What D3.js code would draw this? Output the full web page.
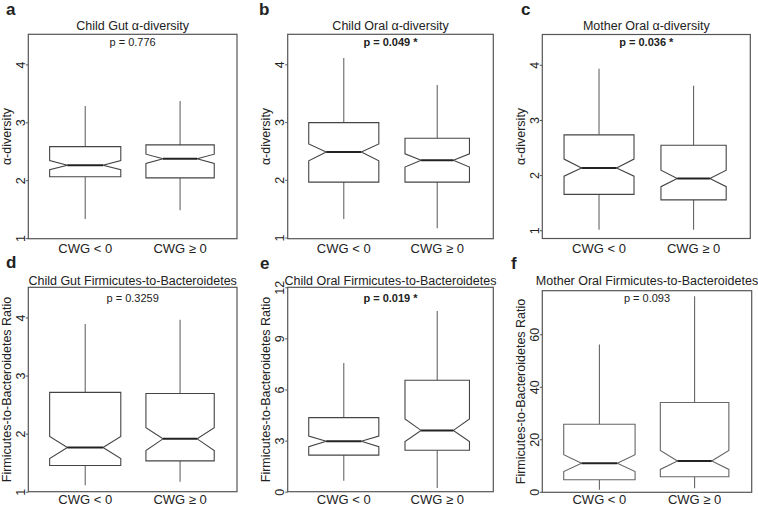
<!DOCTYPE html>
<html>
<head>
<meta charset="utf-8">
<script src="https://cdn.jsdelivr.net/npm/d3@7"></script>
<style>
  body { margin: 0; background: #fff; }
  text { font-family: "Liberation Sans", Arial, sans-serif; fill: #222; }
</style>
</head>
<body>
<svg id="chart"></svg>
<script>
// ---- data ----
let panelLetters = ["a", "b", "c", "d", "e", "f"]
let panelTitles = [
  "Child Gut α-diversity",
  "Child Oral α-diversity",
  "Mother Oral α-diversity",
  "Child Gut Firmicutes-to-Bacteroidetes",
  "Child Oral Firmicutes-to-Bacteroidetes",
  "Mother Oral Firmicutes-to-Bacteroidetes"
]
let pLabels = ["p = 0.776", "p = 0.049 *", "p = 0.036 *", "p = 0.3259", "p = 0.019 *", "p = 0.093"]
let pSignificant = [false, true, true, false, true, false]
let yLabels = [
  "α-diversity", "α-diversity", "α-diversity",
  "Firmicutes-to-Bacteroidetes Ratio", "Firmicutes-to-Bacteroidetes Ratio", "Firmicutes-to-Bacteroidetes Ratio"
]
let groups = ["CWG < 0", "CWG ≥ 0"]
let yTicks = [[1, 2, 3, 4], [1, 2, 3, 4], [1, 2, 3, 4], [1, 2, 3, 4], [0, 3, 6, 9, 12], [0, 20, 40, 60]]
let yRanges = [[0.99, 4.52], [0.98, 4.52], [0.85, 4.55], [1, 4.52], [0, 12], [-0.2, 76.6]]

// lo/hi = whisker ends, nlo/nhi = notch ends
let childGutAlpha = [
  {lo: 1.33, q1: 2.06, nlo: 2.18, med: 2.26, nhi: 2.34, q3: 2.58, hi: 3.28},
  {lo: 1.48, q1: 2.04, nlo: 2.29, med: 2.37, nhi: 2.45, q3: 2.61, hi: 3.37}
]
let childOralAlpha = [
  {lo: 1.32, q1: 1.96, nlo: 2.33, med: 2.48, nhi: 2.62, q3: 2.99, hi: 4.11},
  {lo: 1.16, q1: 1.96, nlo: 2.22, med: 2.34, nhi: 2.45, q3: 2.72, hi: 3.64}
]
let motherOralAlpha = [
  {lo: 1.01, q1: 1.65, nlo: 1.98, med: 2.13, nhi: 2.29, q3: 2.73, hi: 3.93},
  {lo: 1.01, q1: 1.55, nlo: 1.79, med: 1.94, nhi: 2.09, q3: 2.54, hi: 3.62}
]
let childGutFB = [
  {lo: 1.11, q1: 1.45, nlo: 1.57, med: 1.76, nhi: 1.95, q3: 2.71, hi: 3.89},
  {lo: 1.17, q1: 1.53, nlo: 1.71, med: 1.91, nhi: 2.10, q3: 2.69, hi: 3.96}
]
let childOralFB = [
  {lo: 0.65, q1: 2.15, nlo: 2.64, med: 2.96, nhi: 3.27, q3: 4.35, hi: 7.56},
  {lo: 0.22, q1: 2.43, nlo: 2.94, med: 3.60, nhi: 4.27, q3: 6.54, hi: 10.61}
]
let motherOralFB = [
  {lo: 0.8, q1: 4.6, nlo: 7.7, med: 10.9, nhi: 14.1, q3: 25.7, hi: 56.1},
  {lo: 1.3, q1: 5.7, nlo: 8.5, med: 11.7, nhi: 15.7, q3: 34.0, hi: 74.5}
]
let panelData = [childGutAlpha, childOralAlpha, motherOralAlpha, childGutFB, childOralFB, motherOralFB]

// ---- layout ----
let w = 758
let h = 507
let frames = [
  {x0: 28.3, x1: 237, y0: 34.3, y1: 238.7, lx: 6, ly: 15, ty: 29.5, py: 46, gy: 253},
  {x0: 287.7, x1: 493.3, y0: 34.3, y1: 238.7, lx: 259, ly: 15, ty: 29.5, py: 46, gy: 253},
  {x0: 542.3, x1: 750.3, y0: 34.5, y1: 238.5, lx: 521, ly: 15, ty: 29.5, py: 46, gy: 253},
  {x0: 28.3, x1: 237, y0: 287.3, y1: 491.7, lx: 6, ly: 268, ty: 285.3, py: 302, gy: 503.5},
  {x0: 287.7, x1: 493.3, y0: 287.3, y1: 491.7, lx: 260, ly: 269, ty: 285.3, py: 302, gy: 503.5},
  {x0: 542.3, x1: 751.7, y0: 290.7, y1: 492.3, lx: 511, ly: 269, ty: 285.3, py: 302, gy: 503.5}
]
let boxWex = [[0.75, 0.72], [0.75, 0.69], [0.74, 0.69], [0.75, 0.72], [0.75, 0.69], [0.75, 0.72]]

let svg = d3.select("#chart").attr("width", w).attr("height", h)

let notchPath = (d, xc, bw, y) => {
  let l = xc - bw / 2, r = xc + bw / 2, nl = xc - bw / 4, nr = xc + bw / 4
  return `M${l},${y(d.q3)}H${r}V${y(d.nhi)}L${nr},${y(d.med)}L${r},${y(d.nlo)}V${y(d.q1)}` +
         `H${l}V${y(d.nlo)}L${nl},${y(d.med)}L${l},${y(d.nhi)}Z`
}

panelData.forEach((stats, i) => {
  let f = frames[i]
  let g = svg.append("g")
  let xScale = d3.scaleLinear().domain([0.4, 2.6]).range([f.x0, f.x1])
  let yScale = d3.scaleLinear().domain(yRanges[i]).range([f.y1, f.y0])
  let step = xScale(2) - xScale(1)

  // y axis
  let yAxis = d3.axisLeft(yScale)
                .tickValues(yTicks[i])
                .tickFormat(d3.format("d"))
                .tickSize(2.5)
                .tickSizeOuter(0)
  let ax = g.append("g").attr("transform", `translate(${f.x0},0)`).call(yAxis)
  ax.select(".domain").remove()
  ax.selectAll("line").attr("stroke", "#555")
  ax.selectAll("text")
    .attr("transform", "rotate(-90)")
    .attr("x", 0).attr("y", -3.8).attr("dy", 0)
    .attr("text-anchor", "middle")
    .style("font-size", "12.5px")
    .style("font-family", "'Liberation Sans', Arial, sans-serif")
    .attr("fill", "#222")

  g.append("text")
   .attr("transform", `translate(${f.x0 - 17.6},${(f.y0 + f.y1) / 2}) rotate(-90)`)
   .attr("text-anchor", "middle")
   .style("font-size", "12.5px")
   .text(yLabels[i])

  // whiskers
  stats.forEach((d, j) => {
    let xc = xScale(j + 1)
    g.append("line").attr("x1", xc).attr("x2", xc)
     .attr("y1", yScale(d.q3)).attr("y2", yScale(d.hi))
     .attr("stroke", "#666").attr("stroke-width", 1.1)
    g.append("line").attr("x1", xc).attr("x2", xc)
     .attr("y1", yScale(d.q1)).attr("y2", yScale(d.lo))
     .attr("stroke", "#666").attr("stroke-width", 1.1)
  })

  // notched boxes
  g.selectAll(".box")
   .data(stats)
   .enter()
   .append("path")
   .attr("class", "box")
   .attr("d", (d, j) => notchPath(d, xScale(j + 1), boxWex[i][j] * step, yScale))
   .attr("fill", "#fff")
   .attr("stroke", i == 5 ? "#666" : "#444")
   .attr("stroke-width", 1.1)

  g.selectAll(".med")
   .data(stats)
   .enter()
   .append("line")
   .attr("x1", (d, j) => xScale(j + 1) - boxWex[i][j] * step / 4)
   .attr("x2", (d, j) => xScale(j + 1) + boxWex[i][j] * step / 4)
   .attr("y1", (d) => yScale(d.med))
   .attr("y2", (d) => yScale(d.med))
   .attr("stroke", "#222")
   .attr("stroke-width", 2)

  // frame
  g.append("rect")
   .attr("x", f.x0).attr("y", f.y0)
   .attr("width", f.x1 - f.x0).attr("height", f.y1 - f.y0)
   .attr("fill", "none").attr("stroke", "#555").attr("stroke-width", 1.2)

  // group labels
  g.selectAll(".grp")
   .data(groups)
   .enter()
   .append("text")
   .attr("x", (d, j) => xScale(j + 1))
   .attr("y", f.gy)
   .attr("text-anchor", "middle")
   .style("font-size", "13px")
   .text((d) => d)

  // title, p value, panel letter
  g.append("text")
   .attr("x", (f.x0 + f.x1) / 2).attr("y", f.ty)
   .attr("text-anchor", "middle")
   .style("font-size", "12.5px")
   .text(panelTitles[i])

  g.append("text")
   .attr("x", (f.x0 + f.x1) / 2).attr("y", f.py)
   .attr("text-anchor", "middle")
   .style("font-size", "11px")
   .style("font-weight", pSignificant[i] ? "bold" : "normal")
   .text(pLabels[i])

  g.append("text")
   .attr("x", f.lx).attr("y", f.ly)
   .style("font-size", "17px")
   .style("font-weight", "bold")
   .attr("fill", "#111")
   .text(panelLetters[i])
})
</script>
</body>
</html>
